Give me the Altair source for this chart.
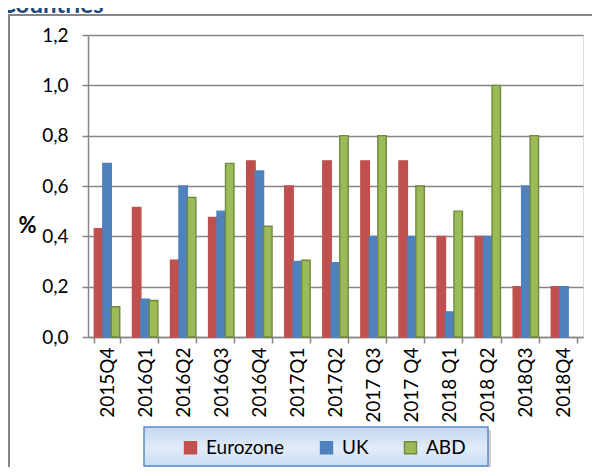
import altair as alt
import pandas as pd

# ---- data ----
quarters = ["2015Q4", "2016Q1", "2016Q2", "2016Q3", "2016Q4", "2017Q1", "2017Q2",
            "2017 Q3", "2017 Q4", "2018 Q1", "2018 Q2", "2018Q3", "2018Q4"]
series = ["Eurozone", "UK", "ABD"]
eurozone = [0.43, 0.515, 0.305, 0.475, 0.70, 0.60, 0.70, 0.70, 0.70, 0.40, 0.40, 0.20, 0.20]
uk = [0.69, 0.15, 0.60, 0.50, 0.66, 0.30, 0.295, 0.40, 0.40, 0.10, 0.40, 0.60, 0.20]
abd = [0.12, 0.145, 0.555, 0.69, 0.44, 0.305, 0.80, 0.80, 0.60, 0.50, 1.00, 0.80, None]
y_ticks = [0, 0.2, 0.4, 0.6, 0.8, 1.0, 1.2]
title_text = "Countries"

fills = ["#C0504D", "#4F81BD", "#9BBB59"]
strokes = ["#C0504D", "#4F81BD", "#71893F"]

rows = []
for name, vals in zip(series, [eurozone, uk, abd]):
    for q, v in zip(quarters, vals):
        if v is not None:
            rows.append({"Quarter": q, "Series": name, "Value": v})
df = pd.DataFrame(rows)

FONT = "Lato"
GRAY = "#868686"

legend_cfg = dict(title=None, orient="none", direction="horizontal",
                  legendX=93, legendY=403, padding=0,
                  symbolType="square", symbolSize=144, symbolStrokeWidth=1.4,
                  labelFont=FONT, labelFontSize=19, labelColor="black",
                  labelOffset=6, columnPadding=32)

bars = alt.Chart(df).mark_bar(strokeWidth=1.4).encode(
    x=alt.X("Quarter:N", sort=quarters,
            scale=alt.Scale(paddingInner=0.333, paddingOuter=0.1667),
            axis=alt.Axis(title=None, labelAngle=270, labelFont=FONT, labelFontSize=19,
                          labelColor="black", labelPadding=4, tickBand="extent",
                          tickSize=6, tickColor=GRAY, tickWidth=1.5,
                          domainColor=GRAY, domainWidth=1.5, grid=False)),
    xOffset=alt.XOffset("Series:N", sort=series,
                        scale=alt.Scale(paddingInner=0, paddingOuter=0)),
    y=alt.Y("Value:Q", scale=alt.Scale(domain=[0, 1.2]),
            axis=alt.Axis(title="%", titleAngle=0, titleX=-61, titleY=190,
                          titleAlign="center", titleBaseline="middle",
                          titleFont=FONT, titleFontSize=22, titleFontWeight="bold",
                          titleColor="black",
                          values=y_ticks,
                          labelExpr="replace(format(datum.value, '.1f'), '.', ',')",
                          labelFont=FONT, labelFontSize=19, labelColor="black",
                          labelPadding=14, tickSize=6, tickColor=GRAY, tickWidth=1.5,
                          domainColor=GRAY, domainWidth=1.5,
                          grid=True, gridColor=GRAY, gridWidth=1.3)),
    fill=alt.Fill("Series:N", sort=series,
                  scale=alt.Scale(domain=series, range=fills),
                  legend=alt.Legend(**legend_cfg)),
    stroke=alt.Stroke("Series:N", sort=series,
                      scale=alt.Scale(domain=series, range=strokes),
                      legend=alt.Legend(**legend_cfg)),
)

one = alt.Data(values=[{"k": 0}])

# decorative chart-area frame (its right and bottom edges lie outside the picture)
frame = alt.Chart(one).mark_rect(fill="white", fillOpacity=0, stroke=GRAY, strokeWidth=2).encode(
    x=alt.value(-79), x2=alt.value(540), y=alt.value(-20), y2=alt.value(480))

# decorative legend box with shadow and gradient
legend_shadow = alt.Chart(one).mark_rect(color="#BFBFBF", opacity=0.7).encode(
    x=alt.value(59), x2=alt.value(403), y=alt.value(395), y2=alt.value(435))
legend_box = alt.Chart(one).mark_rect(
    stroke="#5F8BC9", strokeWidth=1.5,
    fill=alt.Gradient(gradient="linear", x1=0, x2=0, y1=0, y2=1,
                      stops=[alt.GradientStop(color="#C3D7F1", offset=0),
                             alt.GradientStop(color="#E2ECFA", offset=0.55),
                             alt.GradientStop(color="#C7DAF2", offset=1)])
).encode(x=alt.value(56), x2=alt.value(400), y=alt.value(392), y2=alt.value(431))

title_mark = alt.Chart(one).mark_text(
    text=title_text, align="left", baseline="alphabetic", font=FONT,
    fontWeight="bold", fontSize=24, color="#1F497D"
).encode(x=alt.value(-88), y=alt.value(-22))

chart = alt.layer(
    frame, legend_shadow, legend_box, title_mark, bars
).properties(
    width=495, height=302,
    autosize=alt.AutoSizeParams(type="none"),
    padding={"left": 80, "top": 27, "right": 9, "bottom": 130},
).configure_view(stroke=None).configure(background="white")

chart.save("out.html", embed_options={"renderer": "svg", "actions": False})
